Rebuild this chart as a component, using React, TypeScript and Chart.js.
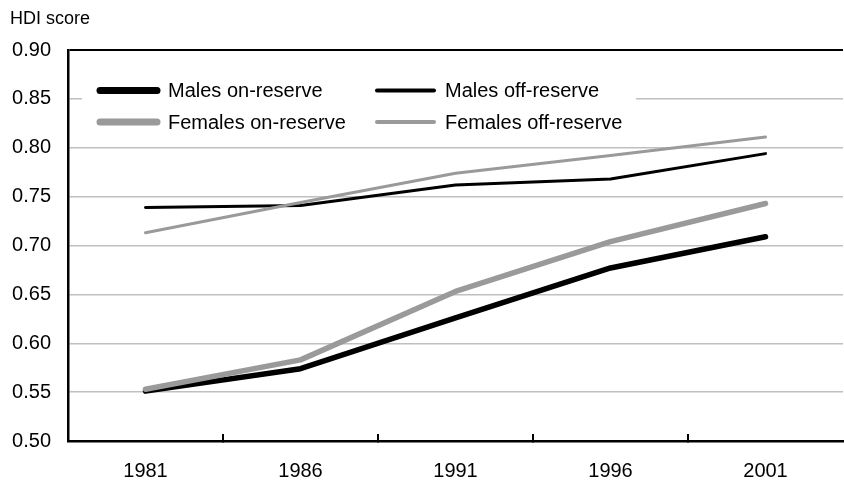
import React, { useEffect, useRef } from "react";
import { Chart, registerables } from "chart.js";

Chart.register(...registerables);

const years = ["1981", "1986", "1991", "1996", "2001"];
const malesOnReserve = [0.551, 0.574, 0.626, 0.677, 0.709];
const malesOffReserve = [0.739, 0.741, 0.762, 0.768, 0.794];
const femalesOnReserve = [0.553, 0.583, 0.653, 0.704, 0.743];
const femalesOffReserve = [0.713, 0.744, 0.774, 0.792, 0.811];
const yAxisTitle = "HDI score";

const FONT = '"Liberation Sans", Arial, sans-serif';
const BLACK = "#000000";
const GREY = "#9a9a9a";

const boxLegend = {
  id: "boxLegend",
  beforeDatasetsDraw(chart: any) {
    const { ctx, chartArea } = chart;
    const x0 = chartArea.left;
    const y0 = chartArea.top;
    ctx.save();
    ctx.fillStyle = "#ffffff";
    ctx.fillRect(x0 + 14, y0 + 24, 554, 66);
    chart.data.datasets.forEach((d: any, i: number) => {
      const col = i % 2;
      const row = Math.floor(i / 2);
      const sx = x0 + 32 + col * 277;
      const sy = y0 + 40.5 + row * 31.5;
      ctx.strokeStyle = d.borderColor;
      ctx.lineWidth = d.legendWidth;
      ctx.lineCap = "round";
      ctx.beginPath();
      ctx.moveTo(sx, sy);
      ctx.lineTo(sx + 57, sy);
      ctx.stroke();
      ctx.fillStyle = "#000";
      ctx.font = `20px ${FONT}`;
      ctx.textBaseline = "middle";
      ctx.textAlign = "left";
      ctx.fillText(d.label, sx + 68, sy + 1);
    });
    ctx.restore();
  },
  afterDraw(chart: any) {
    const { ctx } = chart;
    ctx.save();
    ctx.fillStyle = "#000";
    ctx.font = `18px ${FONT}`;
    ctx.textBaseline = "alphabetic";
    ctx.textAlign = "left";
    ctx.fillText(yAxisTitle, 10, 23.5);
    ctx.restore();
  },
};

export default function App() {
  const ref = useRef<HTMLCanvasElement | null>(null);

  useEffect(() => {
    if (!ref.current) return;
    const chart = new Chart(ref.current, {
      type: "line",
      data: {
        labels: years,
        datasets: [
          {
            label: "Males on-reserve",
            data: malesOnReserve,
            borderColor: BLACK,
            borderWidth: 5.5,
            legendWidth: 7,
            order: 1,
          } as any,
          {
            label: "Males off-reserve",
            data: malesOffReserve,
            borderColor: BLACK,
            borderWidth: 3,
            legendWidth: 4,
            order: 3,
          } as any,
          {
            label: "Females on-reserve",
            data: femalesOnReserve,
            borderColor: GREY,
            borderWidth: 5.5,
            legendWidth: 7,
            order: 0,
          } as any,
          {
            label: "Females off-reserve",
            data: femalesOffReserve,
            borderColor: GREY,
            borderWidth: 3,
            legendWidth: 4,
            order: 2,
          } as any,
        ].map((d) => ({
          ...d,
          pointRadius: 0,
          pointHoverRadius: 0,
          tension: 0,
          fill: false,
          borderJoinStyle: "round",
          borderCapStyle: "round",
        })),
      },
      options: {
        animation: false,
        responsive: true,
        maintainAspectRatio: false,
        events: [],
        layout: { padding: { top: 50, right: 1, left: 0, bottom: 0 } },
        plugins: {
          legend: { display: false },
          title: { display: false },
          tooltip: { enabled: false },
        },
        scales: {
          x: {
            offset: true,
            grid: {
              offset: true,
              drawOnChartArea: false,
              drawTicks: true,
              tickLength: -7,
              lineWidth: 2,
              color: (c: any) =>
                c.type === "tick" && c.index > 0 ? "#000" : "rgba(0,0,0,0)",
            },
            border: { display: true, color: "#000", width: 2.5 },
            ticks: {
              color: "#000",
              font: { family: FONT, size: 20 },
              padding: 25,
              maxRotation: 0,
            },
            afterFit: (s: any) => {
              s.height = 42;
            },
          },
          y: {
            min: 0.5,
            max: 0.9,
            ticks: {
              stepSize: 0.05,
              padding: 17,
              color: "#000",
              font: { family: FONT, size: 20 },
              callback: (v: any) => Number(v).toFixed(2),
            },
            grid: {
              drawTicks: false,
              color: (c: any) => {
                const v = c.tick ? c.tick.value : 0;
                if (Math.abs(v - 0.9) < 1e-6) return "#000";
                if (Math.abs(v - 0.5) < 1e-6) return "rgba(0,0,0,0)";
                return "#c0c0c0";
              },
              lineWidth: (c: any) => {
                const v = c.tick ? c.tick.value : 0;
                return Math.abs(v - 0.9) < 1e-6 ? 2 : 1.5;
              },
            },
            border: { display: true, color: "#000", width: 2.5 },
            afterFit: (s: any) => {
              s.width = 68;
            },
          },
        },
      } as any,
      plugins: [boxLegend],
    });
    return () => chart.destroy();
  }, []);

  return (
    <div style={{ position: "absolute", left: 0, top: 0, width: 844, height: 483 }}>
      <canvas ref={ref} />
    </div>
  );
}
